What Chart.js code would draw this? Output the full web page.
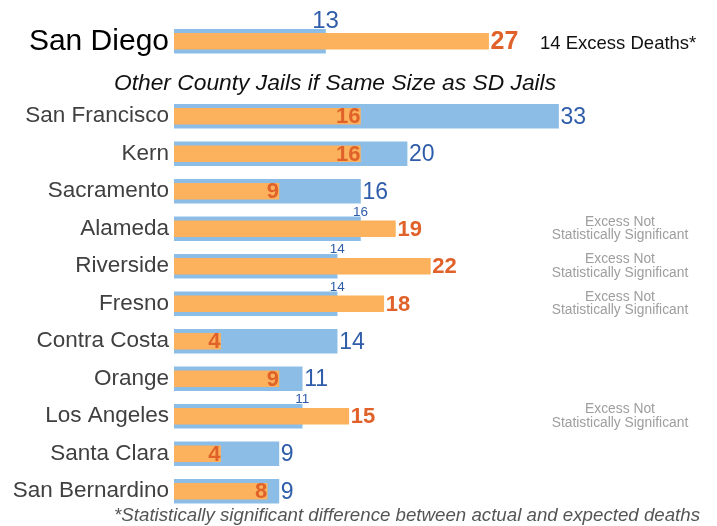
<!DOCTYPE html>
<html>
<head>
<meta charset="utf-8">
<script src="https://cdn.jsdelivr.net/npm/chart.js@4/dist/chart.umd.min.js"></script>
<style>
html,body{margin:0;padding:0;background:#fff;}
#wrap{width:717px;height:526px;position:relative;}
</style>
</head>
<body>
<div id="wrap"><canvas id="c" width="717" height="526"></canvas></div>
<script>
// ---- data ----
const categories = ['San Diego', '', 'San Francisco', 'Kern', 'Sacramento', 'Alameda', 'Riverside', 'Fresno', 'Contra Costa', 'Orange', 'Los Angeles', 'Santa Clara', 'San Bernardino'];
const expectedDeaths = [13, null, 33, 20, 16, 16, 14, 14, 14, 11, 11, 9, 9];   // blue
const actualDeaths   = [27, null, 16, 16, 9, 19, 22, 18, 4, 9, 15, 4, 8];       // orange
const notes = ['14 Excess Deaths*', '', '', '', '', 'Excess Not\nStatistically Significant', 'Excess Not\nStatistically Significant', 'Excess Not\nStatistically Significant', '', '', 'Excess Not\nStatistically Significant', '', ''];
const subtitle = 'Other County Jails if Same Size as SD Jails';
const footnote = '*Statistically significant difference between actual and expected deaths';

const BLUE = '#8BBDE6', ORANGE = '#FCB25C', BLUE_TXT = '#2F5DAA', ORANGE_TXT = '#E0622A';
const FONT = '"Liberation Sans", Arial, sans-serif';

const labelPlugin = {
  id: 'labels',
  afterDatasetsDraw(chart) {
    const ctx = chart.ctx;
    const oMeta = chart.getDatasetMeta(0);
    const bMeta = chart.getDatasetMeta(1);
    ctx.save();
    categories.forEach((cat, i) => {
      const b = expectedDeaths[i], o = actualDeaths[i];
      if (b == null || o == null) return;
      const be = bMeta.data[i], oe = oMeta.data[i];
      const big = i === 0;
      // blue label
      ctx.fillStyle = BLUE_TXT;
      if (b >= o) {
        ctx.font = '23px ' + FONT;
        ctx.textAlign = 'left'; ctx.textBaseline = 'middle';
        ctx.fillText(String(b), be.x + 2, be.y + 1);
      } else {
        ctx.font = (big ? '24px ' : '13.5px ') + FONT;
        ctx.textAlign = 'center'; ctx.textBaseline = 'alphabetic';
        ctx.fillText(String(b), be.x, be.y - be.height / 2 - 1);
      }
      // orange label
      ctx.fillStyle = ORANGE_TXT;
      ctx.font = 'bold ' + (big ? '25px ' : '22px ') + FONT;
      ctx.textBaseline = 'middle';
      if (o < b) {
        ctx.textAlign = 'right';
        ctx.fillText(String(o), oe.x, oe.y + 1);
      } else {
        ctx.textAlign = 'left';
        ctx.fillText(String(o), oe.x + 2, oe.y + 1);
      }
      // notes
      const n = notes[i];
      if (n) {
        if (big) {
          ctx.fillStyle = '#111';
          ctx.font = '18.5px ' + FONT;
          ctx.textAlign = 'left'; ctx.textBaseline = 'middle';
          ctx.fillText(n, 540, be.y + 3);
        } else {
          ctx.fillStyle = '#9E9E9E';
          ctx.font = '13.8px ' + FONT;
          ctx.textAlign = 'center'; ctx.textBaseline = 'middle';
          const lines = n.split('\n');
          lines.forEach((ln, k) => ctx.fillText(ln, 620, be.y + (k - (lines.length - 1) / 2) * 13.5));
        }
      }
    });
    // subtitle in the empty row
    const ys = chart.scales.y;
    ctx.fillStyle = '#111';
    ctx.font = 'italic 22.8px ' + FONT;
    ctx.textAlign = 'center'; ctx.textBaseline = 'middle';
    ctx.fillText(subtitle, 335, ys.getPixelForValue(1) + 5);
    // footnote
    ctx.fillStyle = '#555';
    ctx.font = 'italic 18.7px ' + FONT;
    ctx.textAlign = 'right'; ctx.textBaseline = 'middle';
    ctx.fillText(footnote, 700, 516);
    ctx.restore();
  }
};

new Chart(document.getElementById('c'), {
  type: 'bar',
  data: {
    labels: categories,
    datasets: [
      { label: 'Actual', data: actualDeaths, backgroundColor: ORANGE, barThickness: 16, grouped: false, order: 0 },
      { label: 'Expected', data: expectedDeaths, backgroundColor: BLUE, barThickness: 24, grouped: false, order: 1 }
    ]
  },
  options: {
    indexAxis: 'y',
    responsive: false,
    animation: false,
    layout: { padding: { top: 22.5, bottom: 16, left: 0, right: 0 } },
    plugins: { legend: { display: false }, tooltip: { enabled: false } },
    scales: {
      x: { display: false, min: 0, max: 46.6 },
      y: {
        grid: { display: false, drawTicks: false },
        border: { display: false },
        afterFit(s) { s.width = 174; s.paddingTop = 0; s.paddingBottom = 0; },
        ticks: {
          autoSkip: false,
          padding: 5,
          color: (c) => c.index === 0 ? '#000' : '#404040',
          font: (c) => c.index === 0 ? { family: FONT, size: 30 } : { family: FONT, size: 22.5 }
        }
      }
    }
  },
  plugins: [labelPlugin]
});
</script>
</body>
</html>
